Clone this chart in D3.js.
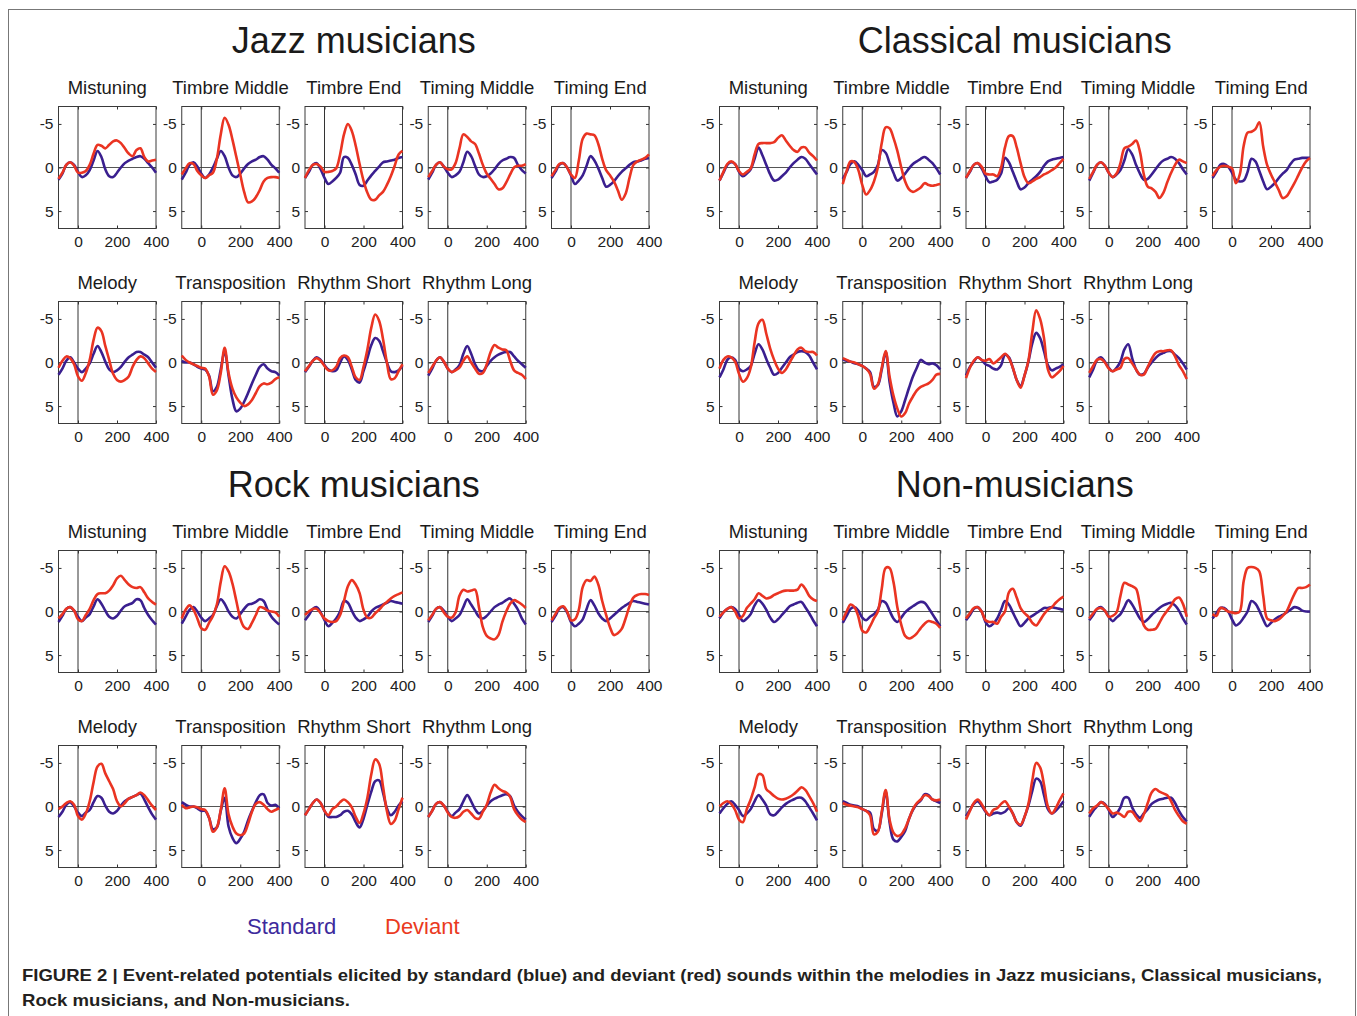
<!DOCTYPE html>
<html>
<head>
<meta charset="utf-8">
<script src="https://cdn.jsdelivr.net/npm/d3@7"></script>
<style>
  body { margin: 0; background: #fff; }
  text { font-family: "Liberation Sans", Arial, Helvetica, sans-serif; }
</style>
</head>
<body>
<div id="fig"></div>
<script>
// time points (ms) shared by every curve
const times = [-100,-80,-60,-40,-20,0,20,40,60,80,100,120,140,160,180,200,220,240,260,280,300,320,340,360,380,400];
const conditions = ["Mistuning","Timbre Middle","Timbre End","Timing Middle","Timing End",
                    "Melody","Transposition","Rhythm Short","Rhythm Long"];
const groups = ["Jazz musicians","Classical musicians","Rock musicians","Non-musicians"];
const xTicks = [0, 200, 400];
const yTicks = [-5, 0, 5];

// amplitudes in microvolts, one row per condition (order as in conditions)
const jazzStandard = [
  [1.4,0.7,-0.3,-0.6,-0.3,0.5,1.1,0.9,0.3,-0.8,-1.9,-1.2,0.2,1.0,1.1,0.6,0.0,-0.5,-0.8,-1.0,-1.2,-1.3,-1.0,-0.5,0.0,0.6],
  [1.4,0.6,-0.3,-0.6,-0.1,0.7,1.2,0.8,0.0,-1.0,-1.9,-1.3,0.0,0.9,1.1,0.7,0.1,-0.4,-0.7,-0.9,-1.2,-1.3,-0.9,-0.3,0.1,0.6],
  [1.2,0.5,-0.3,-0.5,0.2,1.2,1.9,1.6,1.2,0.6,-1.2,-1.1,-0.3,0.8,2.0,2.1,1.5,0.9,0.4,-0.1,-0.6,-0.7,-0.8,-0.9,-1.1,-1.2],
  [1.4,0.6,-0.3,-0.6,-0.1,0.6,1.1,0.9,0.5,-0.6,-1.8,-1.3,-0.2,0.8,1.1,1.0,0.7,0.2,-0.4,-0.8,-1.0,-1.2,-1.1,-0.3,0.3,0.7],
  [1.2,0.5,-0.3,-0.5,0.0,0.9,1.9,1.5,0.9,-0.2,-1.3,-0.8,0.1,1.2,2.2,2.0,1.6,1.0,0.5,0.1,-0.3,-0.6,-0.7,-0.8,-1.0,-1.1],
  [1.4,0.7,-0.2,-0.6,0.0,0.7,1.1,0.7,0.1,-1.0,-1.9,-1.2,-0.1,0.8,1.1,0.9,0.5,-0.1,-0.6,-0.9,-1.2,-1.2,-0.9,-0.6,0.0,0.6],
  [-0.2,0.0,0.0,0.2,0.5,0.7,0.8,1.5,3.3,2.8,0.8,-1.3,1.5,4.2,5.6,5.3,4.5,3.5,2.4,1.4,0.5,0.2,0.7,1.0,1.1,1.5],
  [1.1,0.5,-0.2,-0.6,-0.3,0.3,0.8,1.0,0.9,0.0,-0.7,-0.3,0.8,2.0,2.3,1.0,-0.5,-2.0,-2.8,-2.5,-1.3,0.0,1.0,1.1,0.9,0.4],
  [1.5,0.7,-0.2,-0.6,-0.1,0.7,1.1,0.8,0.3,-1.0,-1.9,-1.0,0.2,0.9,1.0,0.4,-0.2,-0.6,-0.9,-1.1,-1.2,-1.2,-0.7,-0.2,0.2,0.6]
];
const jazzDeviant = [
  [1.3,0.6,-0.3,-0.6,-0.2,0.6,0.6,0.4,-0.3,-1.6,-2.6,-2.5,-2.2,-2.6,-3.0,-3.1,-2.8,-2.2,-1.6,-1.3,-2.0,-2.2,-1.2,-0.7,-0.8,-0.9],
  [0.8,0.1,-0.5,-0.4,0.4,0.9,1.2,0.9,0.6,-1.0,-3.8,-5.7,-4.9,-3.2,-1.2,0.8,2.8,4.0,3.9,3.4,2.6,1.6,1.2,1.1,1.1,1.2],
  [1.2,0.3,-0.3,-0.4,-0.1,0.5,0.5,0.4,0.1,-1.5,-3.8,-5.0,-4.2,-2.5,-0.4,1.5,2.9,3.7,3.7,3.2,2.8,2.0,1.0,-0.2,-1.5,-1.9],
  [1.1,0.4,-0.3,-0.6,-0.1,0.2,0.2,-0.5,-2.2,-3.8,-3.5,-3.0,-2.7,-1.6,-0.3,0.7,1.3,1.9,2.5,2.4,1.7,0.8,0.0,-0.2,-0.2,-0.4],
  [1.0,0.3,-0.4,-0.5,0.0,0.8,1.2,-0.8,-3.3,-3.9,-3.8,-3.7,-2.7,-1.0,0.3,0.9,1.6,2.6,3.7,3.0,1.2,-0.3,-0.7,-0.9,-1.1,-1.5],
  [0.6,-0.2,-0.7,-0.5,0.2,1.6,2.1,1.2,-0.3,-2.6,-4.0,-3.6,-1.9,-0.3,1.3,2.0,2.2,2.0,1.6,0.5,-0.3,-0.7,-0.5,0.1,0.7,1.1],
  [-0.8,-0.3,0.0,0.2,0.4,0.6,0.7,1.6,3.7,3.2,1.2,-1.7,1.2,3.0,4.0,4.6,5.0,4.8,4.3,3.5,2.7,2.4,2.5,2.3,1.9,1.7],
  [1.0,0.4,-0.2,-0.5,-0.2,0.4,0.9,0.9,0.5,-0.5,-0.8,-0.6,0.5,1.7,2.0,0.5,-1.5,-4.0,-5.5,-4.8,-2.7,0.0,1.9,1.8,1.0,0.2],
  [1.2,0.5,-0.2,-0.6,-0.1,0.7,1.1,0.9,0.6,-0.2,-0.7,0.0,0.7,1.3,1.2,0.2,-1.2,-2.0,-1.7,-1.5,-1.4,-0.2,0.9,1.2,1.4,1.9]
];
const classicalStandard = [
  [1.5,0.6,-0.3,-0.6,-0.4,0.5,1.0,0.7,0.2,-1.0,-2.3,-1.4,-0.3,0.8,1.5,1.4,1.0,0.6,0.0,-0.5,-0.9,-1.2,-1.0,-0.4,0.2,0.8],
  [1.3,0.5,-0.4,-0.7,-0.3,0.3,1.0,0.8,0.5,-0.3,-2.0,-1.7,-0.5,0.6,1.5,1.2,0.7,0.1,-0.4,-0.7,-1.0,-1.2,-0.9,-0.5,0.1,0.8],
  [1.2,0.5,-0.3,-0.5,0.1,1.0,1.7,1.6,1.4,0.7,-1.1,-0.6,0.5,1.6,2.5,2.3,1.8,1.4,1.0,0.5,-0.2,-0.7,-0.9,-1.0,-1.1,-1.2],
  [1.5,0.6,-0.3,-0.6,-0.2,0.6,1.1,0.8,0.3,-0.8,-2.1,-1.5,-0.3,0.7,1.4,1.3,0.8,0.2,-0.4,-0.8,-1.0,-1.2,-1.0,-0.5,0.2,0.8],
  [1.2,0.5,-0.3,-0.4,-0.1,0.6,1.4,1.6,1.5,0.5,-1.0,-0.7,0.4,1.6,2.5,2.2,1.8,1.2,0.7,0.3,-0.4,-0.9,-1.0,-1.1,-1.1,-1.1],
  [1.7,0.8,-0.3,-0.6,-0.3,0.7,1.0,0.8,0.4,-1.0,-2.1,-1.5,-0.4,0.6,1.4,1.2,0.6,0.0,-0.6,-0.9,-1.2,-1.3,-1.2,-0.8,0.0,0.8],
  [-0.4,-0.2,-0.1,0.1,0.2,0.4,0.7,1.1,2.8,2.6,0.8,-1.2,2.2,4.6,6.2,5.6,4.3,2.9,1.6,0.6,-0.3,0.0,0.2,0.1,0.3,0.8],
  [1.5,0.5,-0.1,-0.6,-0.3,0.2,0.4,0.7,0.8,0.3,-0.9,-0.6,0.6,2.0,2.7,1.5,-0.1,-2.2,-3.4,-2.8,-1.3,0.3,0.9,0.7,0.5,0.2],
  [1.7,0.8,-0.3,-0.6,-0.1,0.6,1.0,0.6,-0.1,-1.5,-2.1,-0.5,0.8,1.4,1.3,0.6,0.0,-0.5,-0.9,-1.1,-1.3,-1.3,-0.9,-0.5,0.1,0.8]
];
const classicalDeviant = [
  [1.5,0.5,-0.4,-0.7,-0.4,0.4,0.8,0.5,0.1,-1.5,-2.7,-2.8,-2.8,-2.8,-2.9,-3.4,-3.7,-3.1,-2.5,-2.0,-1.8,-2.3,-2.3,-1.7,-1.3,-0.8],
  [1.9,0.4,-0.7,-0.6,0.3,2.0,3.1,2.6,1.6,0.0,-2.8,-4.6,-4.5,-3.4,-1.9,0.0,1.6,2.5,2.8,2.6,2.3,1.8,2.0,2.1,2.0,1.9],
  [1.2,0.4,-0.3,-0.5,-0.1,0.7,0.8,0.8,1.0,0.0,-2.3,-3.6,-3.6,-2.3,-0.5,1.1,1.8,1.6,1.3,1.1,0.8,0.6,0.3,0.0,-0.5,-1.0],
  [1.3,0.5,-0.3,-0.6,-0.2,0.6,1.1,0.7,-0.5,-2.2,-2.4,-2.7,-3.1,-1.8,0.8,2.2,2.4,2.8,3.5,2.9,1.7,0.6,-0.3,-0.9,-0.7,-0.5],
  [1.0,0.3,-0.1,-0.2,-0.1,0.1,1.8,0.8,-2.5,-4.0,-4.1,-4.4,-5.2,-2.4,-0.3,0.8,1.7,2.6,3.5,3.3,2.6,1.8,0.9,0.0,-0.7,-1.1],
  [0.7,-0.3,-0.7,-0.6,-0.1,1.3,2.2,1.8,0.6,-2.3,-4.5,-4.9,-3.3,-1.6,-0.3,0.7,1.2,0.8,0.0,-0.8,-1.5,-1.7,-1.3,-1.2,-1.2,-0.8],
  [-0.5,-0.3,-0.1,0.0,0.2,0.4,0.7,1.3,3.0,2.5,0.6,-1.3,1.6,3.8,5.3,6.2,5.8,4.7,3.9,3.2,2.8,2.6,2.4,2.0,1.4,1.3],
  [1.8,0.6,-0.2,-0.6,-0.3,-0.2,-0.4,0.1,-0.2,-0.6,-1.0,-0.5,0.6,2.0,2.9,1.5,-0.2,-3.5,-6.0,-5.0,-2.8,0.8,1.7,1.4,1.0,0.4],
  [1.2,0.4,-0.3,-0.4,0.0,0.7,1.0,0.8,0.6,-0.4,-0.5,0.1,0.8,1.4,1.4,0.5,-0.4,-1.1,-1.3,-1.3,-1.4,-1.4,-0.7,0.3,1.0,1.9]
];
const rockStandard = [
  [1.2,0.5,-0.3,-0.5,-0.1,0.6,1.1,0.7,0.3,-0.6,-1.4,-0.9,-0.1,0.6,0.8,0.5,-0.1,-0.6,-0.8,-1.0,-1.4,-1.3,-0.4,0.4,1.0,1.5],
  [1.4,0.6,-0.2,-0.5,0.0,0.7,1.1,0.8,0.4,-0.6,-1.4,-0.9,0.0,0.6,0.8,0.3,-0.3,-0.8,-0.9,-1.1,-1.4,-1.2,-0.2,0.6,1.1,1.5],
  [1.0,0.4,-0.3,-0.5,0.1,1.0,1.7,1.3,0.8,0.0,-1.2,-1.0,-0.1,0.7,1.1,0.9,0.6,0.0,-0.4,-0.6,-0.8,-1.0,-1.2,-1.1,-1.0,-0.9],
  [1.2,0.5,-0.3,-0.5,-0.1,0.6,1.1,0.8,0.4,-0.5,-1.4,-0.8,-0.1,0.6,0.8,0.5,0.0,-0.5,-0.8,-1.0,-1.3,-1.5,-0.9,-0.2,0.8,1.5],
  [1.2,0.5,-0.3,-0.5,0.1,1.2,1.7,1.4,0.9,-0.3,-1.3,-0.7,0.2,0.8,1.1,0.8,0.4,0.0,-0.4,-0.7,-1.0,-1.2,-1.1,-1.0,-0.9,-0.8],
  [1.2,0.6,-0.2,-0.5,0.0,0.7,1.1,0.7,0.4,-0.5,-1.2,-1.0,-0.1,0.6,0.8,0.5,-0.1,-0.6,-0.9,-1.1,-1.3,-1.5,-0.8,0.1,0.9,1.5],
  [-0.5,-0.2,0.0,0.0,0.2,0.5,0.5,1.3,2.6,2.4,0.5,-1.0,2.3,3.6,4.2,3.7,2.9,1.6,0.5,-0.5,-1.3,-1.4,-0.4,-0.1,-0.2,0.2],
  [1.0,0.3,-0.4,-0.8,-0.4,0.5,1.2,1.2,1.2,1.0,0.6,0.5,0.9,1.8,2.4,1.4,-0.2,-1.7,-2.9,-3.0,-1.6,0.2,1.0,0.6,-0.1,-0.6],
  [1.2,0.5,-0.3,-0.5,-0.1,0.6,1.1,0.7,0.3,-0.6,-1.3,-0.6,0.3,0.8,0.5,-0.1,-0.6,-0.9,-1.1,-1.3,-1.4,-1.2,-0.1,0.6,1.1,1.5]
];
const rockDeviant = [
  [0.8,0.3,-0.3,-0.5,-0.1,0.9,1.1,0.4,-0.3,-1.3,-2.0,-2.1,-2.1,-2.4,-3.0,-3.8,-4.1,-3.6,-3.1,-2.8,-2.7,-2.8,-2.2,-1.5,-1.1,-0.8],
  [0.8,-0.2,-0.7,-0.2,0.8,1.9,2.1,1.3,0.5,-0.8,-3.4,-5.2,-4.6,-3.2,-1.2,0.8,1.8,2.0,1.3,0.4,-0.5,-0.4,-0.1,0.0,0.1,0.6],
  [0.4,0.0,-0.3,-0.3,0.2,0.8,1.1,1.2,1.1,0.4,-1.2,-2.9,-3.6,-3.1,-2.1,-0.2,0.7,0.7,0.2,-0.2,-0.7,-1.1,-1.5,-1.8,-2.0,-2.2],
  [1.0,0.4,-0.3,-0.5,0.1,0.6,0.7,0.1,-1.8,-2.5,-2.3,-2.4,-2.5,-0.5,1.8,2.8,3.1,3.2,2.7,1.2,0.0,-0.9,-1.3,-1.1,-0.8,-0.4],
  [1.0,0.3,-0.4,-0.6,0.0,1.0,0.9,-0.2,-2.8,-3.6,-3.5,-4.0,-3.1,-1.2,0.4,1.8,2.7,2.5,2.0,0.8,-0.6,-1.6,-1.9,-2.0,-2.0,-1.9],
  [0.3,0.0,-0.4,-0.6,-0.2,1.1,1.5,0.8,-0.6,-2.8,-4.6,-4.9,-3.8,-2.9,-2.0,-0.6,0.0,-0.4,-0.9,-1.1,-1.3,-1.6,-1.3,-0.7,-0.1,0.4],
  [-0.2,0.2,0.1,0.0,0.1,0.3,0.4,1.3,2.9,2.4,0.4,-2.1,0.9,2.3,3.1,3.3,3.1,2.0,0.6,-0.3,-0.5,-0.2,0.3,0.6,0.4,0.2],
  [1.0,0.3,-0.4,-0.8,-0.4,0.5,1.0,0.3,0.0,-0.5,-0.8,-0.5,0.1,1.2,1.9,0.8,-1.0,-3.7,-5.4,-4.9,-2.3,0.5,2.0,1.6,0.3,-1.0],
  [1.2,0.5,-0.3,-0.5,-0.1,0.7,1.2,1.3,1.1,0.6,0.4,0.8,1.3,1.4,0.6,-0.2,-1.6,-2.5,-2.1,-1.8,-1.6,-1.1,0.3,1.0,1.5,1.8]
];
const nonStandard = [
  [0.8,0.1,-0.3,-0.5,-0.3,0.4,1.1,0.8,0.3,-0.7,-1.3,-0.9,-0.2,0.7,1.2,0.9,0.4,-0.1,-0.6,-0.8,-1.0,-1.1,-0.5,0.2,1.0,1.7],
  [1.3,0.5,-0.3,-0.5,-0.1,0.7,1.0,0.6,0.3,-0.2,-1.2,-1.0,-0.1,0.8,1.2,0.7,0.1,-0.3,-0.6,-0.9,-1.1,-1.0,-0.4,0.3,1.0,1.7],
  [1.0,0.4,-0.3,-0.5,0.0,1.2,1.7,1.4,0.8,-0.2,-1.2,-0.8,0.1,1.0,1.7,1.3,0.8,0.5,0.2,-0.1,-0.4,-0.4,-0.5,-0.4,-0.3,-0.2],
  [1.0,0.4,-0.3,-0.5,-0.1,0.6,1.1,0.7,0.3,-0.5,-1.3,-0.8,0.0,0.8,1.2,0.9,0.4,0.0,-0.4,-0.7,-0.9,-1.0,-0.7,-0.1,0.8,1.5],
  [0.8,0.2,-0.4,-0.4,0.0,0.9,1.6,1.3,0.7,0.0,-1.2,-0.9,-0.1,0.9,1.7,1.3,0.9,0.6,0.4,0.1,-0.2,-0.5,-0.4,-0.1,0.0,0.0],
  [0.8,0.2,-0.3,-0.6,-0.2,0.4,1.1,0.8,0.3,-0.6,-1.3,-0.8,-0.1,0.9,1.0,0.6,0.1,-0.3,-0.6,-0.8,-1.0,-1.0,-0.6,0.1,0.8,1.6],
  [-0.6,-0.4,-0.2,-0.1,0.0,0.3,0.5,0.7,2.6,2.8,0.8,-1.7,1.8,3.8,4.0,3.5,2.8,1.4,0.4,-0.3,-0.7,-1.4,-1.3,-0.8,-0.6,-0.4],
  [1.1,0.4,-0.3,-0.6,-0.1,0.6,1.0,0.8,0.7,0.8,0.6,0.2,0.8,1.8,2.2,1.2,-0.1,-1.8,-3.2,-2.9,-1.3,0.3,0.8,0.5,0.0,-0.6],
  [1.2,0.5,0.0,-0.5,-0.3,0.4,1.2,0.8,0.1,-1.0,-1.0,0.1,0.9,1.3,0.8,0.3,-0.3,-0.6,-0.8,-0.9,-1.0,-1.0,-0.4,0.5,1.2,1.7]
];
const nonDeviant = [
  [0.6,0.1,-0.3,-0.5,0.0,0.8,0.5,-0.4,-0.9,-1.4,-2.1,-1.8,-1.5,-1.6,-1.9,-2.1,-2.3,-2.4,-2.4,-2.4,-2.5,-3.1,-2.6,-1.8,-1.4,-1.2],
  [1.0,0.0,-0.8,-0.5,0.6,2.2,2.4,1.7,0.8,0.0,-2.6,-5.0,-5.0,-3.4,-0.5,1.5,2.8,3.1,2.9,2.5,1.9,1.4,1.1,1.2,1.4,1.9],
  [0.8,0.2,-0.4,-0.5,0.0,1.0,1.2,1.2,1.4,0.6,0.0,-2.2,-2.6,-1.6,-0.4,0.2,0.6,1.3,1.6,1.0,0.3,-0.2,-0.5,-1.0,-1.4,-1.7],
  [0.8,0.2,-0.3,-0.4,-0.1,0.6,0.5,0.1,-1.8,-3.3,-3.1,-2.9,-2.6,-0.7,1.6,2.1,2.1,2.0,1.3,0.5,-0.1,-0.7,-1.4,-1.6,-0.9,0.6],
  [0.3,0.5,-0.4,-0.3,0.0,0.1,0.2,0.0,-3.5,-5.0,-5.1,-5.0,-4.6,-1.8,0.8,1.0,1.1,0.9,0.5,0.0,-1.0,-2.0,-2.7,-2.7,-2.8,-3.1],
  [0.0,-0.4,-0.6,-0.3,0.4,1.5,1.8,0.3,-0.8,-2.2,-3.7,-3.6,-2.0,-1.6,-1.2,-0.9,-0.8,-0.9,-1.1,-1.4,-1.8,-2.2,-1.9,-1.2,-0.4,0.6],
  [-0.4,-0.2,-0.1,0.0,0.1,0.3,0.5,1.0,3.2,2.9,0.6,-1.9,1.5,3.0,3.4,3.2,2.5,1.4,0.3,-0.4,-0.8,-1.3,-1.2,-0.8,-0.7,-0.8],
  [1.5,0.5,-0.4,-0.8,-0.3,0.5,1.0,0.4,0.2,-0.3,-0.6,0.0,0.8,1.8,2.1,1.2,-0.3,-3.0,-5.0,-4.5,-2.5,0.0,0.8,0.2,-0.7,-1.5],
  [0.8,0.2,-0.1,-0.5,-0.2,0.3,0.8,0.7,0.9,1.2,0.6,0.6,1.2,1.7,0.9,-0.4,-1.6,-2.0,-1.7,-1.5,-1.3,-0.6,0.4,1.1,1.7,2.0]
];
const legendLabels = ["Standard", "Deviant"];

const W = 1357, H = 1016;
const stdColor = "#3a1f8f", devColor = "#ea3422";
const panelW = 97.5, panelH = 122, colStep = 123.25, rowStep = 195;

const svg = d3.select("#fig").append("svg")
    .attr("width", W)
    .attr("height", H);

svg.append("rect").attr("width", W).attr("height", H).attr("fill", "#fff");

// outer frame of the figure
svg.append("rect")
    .attr("x", 8.5).attr("y", 9.5)
    .attr("width", 1347).attr("height", 1030)
    .attr("fill", "none")
    .attr("stroke", "#777")
    .attr("stroke-width", 1);

const x = d3.scaleLinear().domain([-100, 400]).range([0, panelW]);
const y = d3.scaleLinear().domain([-7, 7]).range([0, panelH]);

const line = d3.line()
    .x((d, j) => x(times[j]))
    .y(d => y(d))
    .curve(d3.curveCatmullRom.alpha(0.5));

const blocks = [
  {name: groups[0], std: jazzStandard,      dev: jazzDeviant,      left: 58.5,  top: 106.5},
  {name: groups[1], std: classicalStandard, dev: classicalDeviant, left: 719.5, top: 106.5},
  {name: groups[2], std: rockStandard,      dev: rockDeviant,      left: 58.5,  top: 550.5},
  {name: groups[3], std: nonStandard,       dev: nonDeviant,       left: 719.5, top: 550.5}
];

blocks.forEach(function(b) {
    // group title
    svg.append("text")
        .attr("x", b.left + (4 * colStep + panelW) / 2)
        .attr("y", b.top - 53.5)
        .attr("text-anchor", "middle")
        .style("font-size", "36px")
        .attr("fill", "#1a1a1a")
        .text(b.name);

    conditions.forEach(function(c, i) {
        let row = i < 5 ? 0 : 1;
        let col = i < 5 ? i : i - 5;
        let g = svg.append("g")
            .attr("transform", "translate(" + (b.left + col * colStep) + "," + (b.top + row * rowStep) + ")");

        g.append("text")
            .attr("x", panelW / 2)
            .attr("y", -13)
            .attr("text-anchor", "middle")
            .style("font-size", "18.5px")
            .attr("fill", "#1a1a1a")
            .text(c);

        // zero lines
        g.append("line")
            .attr("x1", 0).attr("x2", panelW)
            .attr("y1", y(0)).attr("y2", y(0))
            .attr("stroke", "#555").attr("stroke-width", 1);
        g.append("line")
            .attr("x1", x(0)).attr("x2", x(0))
            .attr("y1", 0).attr("y2", panelH)
            .attr("stroke", "#333").attr("stroke-width", 1);

        // axes with inward ticks
        let ax = g.append("g")
            .attr("transform", "translate(0," + panelH + ")")
            .call(d3.axisBottom(x).tickValues(xTicks).tickSize(-3).tickPadding(7).tickFormat(d => String(d)));
        let axTop = g.append("g")
            .call(d3.axisTop(x).tickValues(xTicks).tickSize(-3).tickFormat(""));
        let ay = g.append("g")
            .call(d3.axisLeft(y).tickValues(yTicks).tickSize(-3).tickPadding(5).tickFormat(d => String(d)));
        let ayRight = g.append("g")
            .attr("transform", "translate(" + panelW + ",0)")
            .call(d3.axisRight(y).tickValues(yTicks).tickSize(-3).tickFormat(""));
        [ax, axTop, ay, ayRight].forEach(function(a) {
            a.select(".domain").remove();
            a.selectAll(".tick line").attr("stroke", "#333");
            a.selectAll("text")
                .style("font-size", "15.5px")
                .style("font-family", "'Liberation Sans', Arial, sans-serif")
                .attr("fill", "#222");
        });

        g.append("rect")
            .attr("width", panelW).attr("height", panelH)
            .attr("fill", "none")
            .attr("stroke", "#3a3a3a")
            .attr("stroke-width", 1);

        g.append("path")
            .datum(b.std[i])
            .attr("fill", "none")
            .attr("stroke", stdColor)
            .attr("stroke-width", 2.6)
            .attr("stroke-linejoin", "round")
            .attr("d", line);

        g.append("path")
            .datum(b.dev[i])
            .attr("fill", "none")
            .attr("stroke", devColor)
            .attr("stroke-width", 2.6)
            .attr("stroke-linejoin", "round")
            .attr("d", line);
    });
});

// legend
svg.append("text")
    .attr("x", 247).attr("y", 934)
    .style("font-size", "22px")
    .attr("fill", "#3d2a9c")
    .text(legendLabels[0]);
svg.append("text")
    .attr("x", 385).attr("y", 934)
    .style("font-size", "22px")
    .attr("fill", "#ea3a1e")
    .text(legendLabels[1]);

// caption
svg.append("text")
    .attr("x", 22).attr("y", 981)
    .attr("textLength", 1300)
    .attr("lengthAdjust", "spacingAndGlyphs")
    .style("font-size", "16.5px")
    .style("font-weight", "bold")
    .attr("fill", "#231f20")
    .text("FIGURE 2 | Event-related potentials elicited by standard (blue) and deviant (red) sounds within the melodies in Jazz musicians, Classical musicians,");
svg.append("text")
    .attr("x", 22).attr("y", 1006)
    .attr("textLength", 328)
    .attr("lengthAdjust", "spacingAndGlyphs")
    .style("font-size", "16.5px")
    .style("font-weight", "bold")
    .attr("fill", "#231f20")
    .text("Rock musicians, and Non-musicians.");
</script>
</body>
</html>
